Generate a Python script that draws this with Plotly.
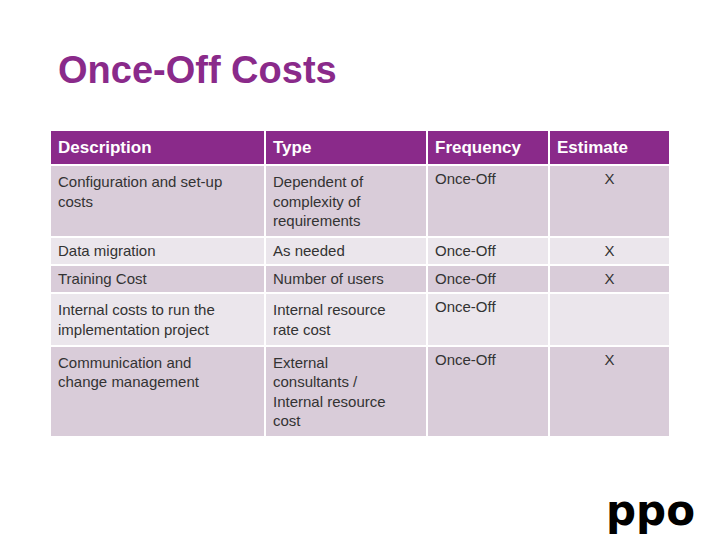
import plotly.graph_objects as go

# Table content
headers = ["Description", "Type", "Frequency", "Estimate"]
description = ["Configuration and set-up<br>costs", "Data migration", "Training Cost",
               "Internal costs to run the<br>implementation project",
               "Communication and<br>change management"]
cost_type = ["Dependent of<br>complexity of<br>requirements", "As needed", "Number of users",
             "Internal resource<br>rate cost",
             "External<br>consultants /<br>Internal resource<br>cost"]
frequency = ["Once-Off"] * 5
estimate = ["X", "X", "X", "", "X"]

dark, light = "#d9ccd9", "#ebe6ec"
row_fill = [dark, light, dark, light, dark]

# page body adds an 8px offset, so positions are shifted back by 8
OFF = 8

fig = go.Figure(go.Table(
    columnwidth=[215, 162, 122, 121],
    domain=dict(x=[(50 - OFF) / 720, (670 - OFF) / 720], y=[0.0, 1 - (130 - OFF) / 540]),
    header=dict(
        values=["<b>%s</b>" % h for h in headers],
        fill_color="#8a2a8a",
        line=dict(color="white", width=2),
        font=dict(color="white", size=17, family="Liberation Sans, Arial"),
        align="left",
        height=28,
    ),
    cells=dict(
        values=[description, cost_type, frequency, estimate],
        fill_color=[row_fill] * 4,
        line=dict(color="white", width=2),
        font=dict(color="#333333", size=15, family="Liberation Sans, Arial"),
        align=["left", "left", "left", "center"],
        height=28,
    ),
))

fig.add_annotation(text="<b>Once-Off Costs</b>", x=(56 - OFF) / 720, y=1 - (70 - OFF) / 540,
                   xref="paper", yref="paper", xanchor="left", yanchor="middle",
                   showarrow=False,
                   font=dict(size=38, color="#8a2a8a", family="Liberation Sans, Arial"))
fig.add_annotation(text="<b>ppo</b>", x=(650 - OFF) / 720, y=1 - (510 - OFF) / 540,
                   xref="paper", yref="paper", xanchor="center", yanchor="middle",
                   showarrow=False,
                   font=dict(size=42, color="black", family="DejaVu Sans"))

fig.update_layout(width=720, height=540, margin=dict(l=0, r=0, t=0, b=0),
                  paper_bgcolor="white", plot_bgcolor="white")
fig.write_html("out.html")
